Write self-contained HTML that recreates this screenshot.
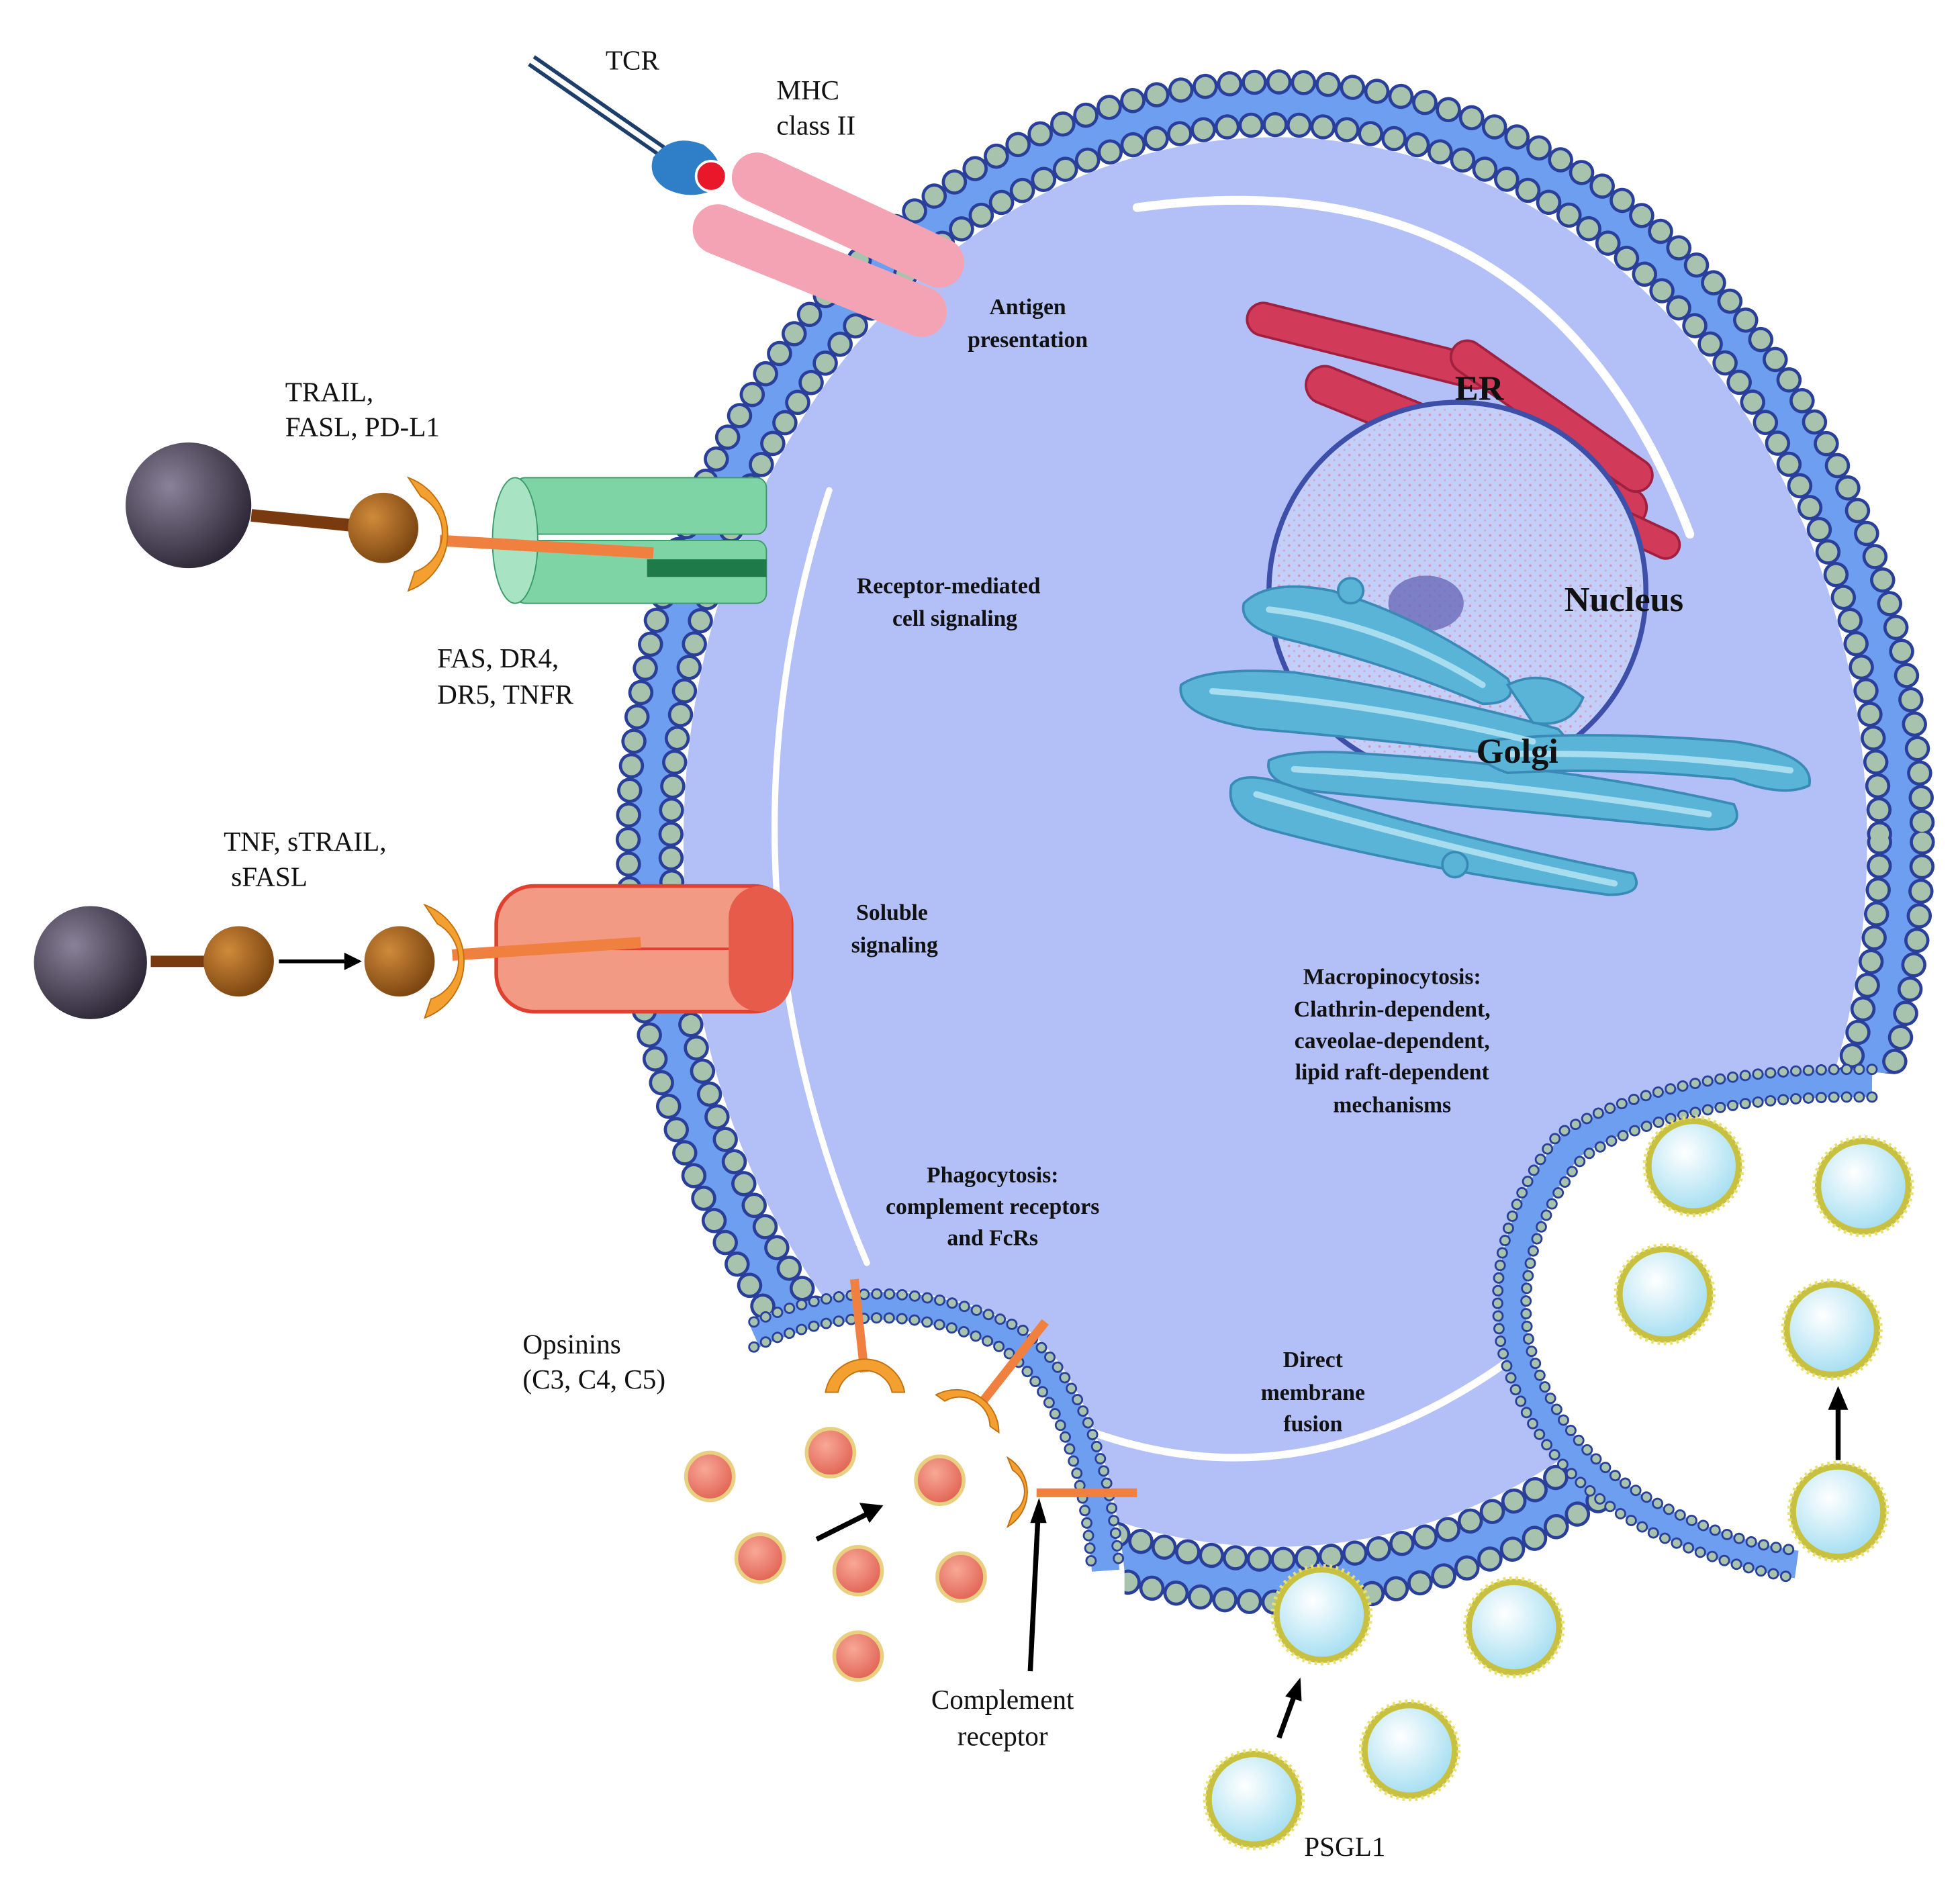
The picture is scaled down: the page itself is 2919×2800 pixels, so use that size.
<!DOCTYPE html>
<html><head><meta charset="utf-8"><style>
html,body{margin:0;padding:0;background:#fff}
svg{display:block}
text{font-family:"Liberation Serif",serif;fill:#111}
.b{font-weight:bold;font-size:18px;text-anchor:middle}
.n{font-size:22px}
.L{font-weight:bold;font-size:28px}
</style></head><body>
<svg width="2919" height="2800" viewBox="0 0 1560 1496" xmlns="http://www.w3.org/2000/svg">
<defs>
<radialGradient id="sph" cx="0.35" cy="0.35" r="0.7"><stop offset="0" stop-color="#8a8298"/><stop offset="1" stop-color="#2c2636"/></radialGradient>
<radialGradient id="brn" cx="0.35" cy="0.35" r="0.7"><stop offset="0" stop-color="#d08a3a"/><stop offset="1" stop-color="#7a4410"/></radialGradient>
<radialGradient id="ves" cx="0.4" cy="0.35" r="0.7"><stop offset="0" stop-color="#ffffff"/><stop offset="1" stop-color="#9fdcf0"/></radialGradient>
<radialGradient id="ops" cx="0.4" cy="0.35" r="0.7"><stop offset="0" stop-color="#f8a898"/><stop offset="1" stop-color="#e06050"/></radialGradient>
<pattern id="dots" width="8" height="8" patternUnits="userSpaceOnUse"><circle cx="2" cy="2" r="1" fill="#e07090"/><circle cx="6" cy="6" r="0.8" fill="#d090b0"/></pattern>
</defs>

<!-- cell body -->
<ellipse cx="1015" cy="670" rx="498" ry="588" fill="none" stroke="#6d9ef0" stroke-width="40"/>
<ellipse cx="1015" cy="670" rx="515" ry="605" fill="none" stroke="#2a3f9a" stroke-width="20" stroke-dasharray="0.1 19.5" stroke-linecap="round"/>
<ellipse cx="1015" cy="670" rx="515" ry="605" fill="none" stroke="#a7c2ad" stroke-width="15" stroke-dasharray="0.1 19.5" stroke-linecap="round"/>
<ellipse cx="1015" cy="670" rx="481" ry="571" fill="none" stroke="#2a3f9a" stroke-width="20" stroke-dasharray="0.1 19" stroke-linecap="round"/>
<ellipse cx="1015" cy="670" rx="481" ry="571" fill="none" stroke="#a7c2ad" stroke-width="15" stroke-dasharray="0.1 19" stroke-linecap="round"/>
<ellipse cx="1015" cy="670" rx="471" ry="561" fill="#b3c0f8"/>

<!-- highlights -->
<path d="M905,165 Q1230,120 1345,425" fill="none" stroke="#fff" stroke-width="7" stroke-linecap="round"/>
<path d="M660,390 Q560,700 690,1005" fill="none" stroke="#fff" stroke-width="5" stroke-linecap="round"/>
<path d="M870,1140 Q1040,1200 1205,1080" fill="none" stroke="#fff" stroke-width="6" stroke-linecap="round"/>

<!-- phagocytosis cup -->
<path d="M560,1070 Q700,990 820,1060 Q880,1110 895,1250 L895,1496 L300,1496 L300,1100 Z" fill="#fff"/>
<path d="M600,1062 Q705,1015 805,1065 Q870,1115 880,1250" fill="none" stroke="#6d9ef0" stroke-width="22"/>
<path d="M600,1052 Q705,1005 812,1057 Q880,1110 891,1250" fill="none" stroke="#2a3f9a" stroke-width="9" stroke-dasharray="0.1 10" stroke-linecap="round"/>
<path d="M600,1052 Q705,1005 812,1057 Q880,1110 891,1250" fill="none" stroke="#a7c2ad" stroke-width="6" stroke-dasharray="0.1 10" stroke-linecap="round"/>
<path d="M600,1072 Q705,1025 798,1073 Q860,1120 869,1250" fill="none" stroke="#2a3f9a" stroke-width="9" stroke-dasharray="0.1 10" stroke-linecap="round"/>
<path d="M600,1072 Q705,1025 798,1073 Q860,1120 869,1250" fill="none" stroke="#a7c2ad" stroke-width="6" stroke-dasharray="0.1 10" stroke-linecap="round"/>

<!-- pinocytosis cavity -->
<path d="M1560,860 L1480,852 Q1330,850 1240,905 Q1180,980 1195,1070 Q1220,1170 1320,1220 Q1380,1245 1430,1250 L1560,1250 Z" fill="#fff"/>
<path d="M1490,862 Q1330,860 1250,912 Q1192,985 1206,1070 Q1230,1165 1325,1212 Q1380,1238 1430,1245" fill="none" stroke="#6d9ef0" stroke-width="22"/>
<path d="M1490,851 Q1325,849 1240,903 Q1180,980 1195,1072 Q1220,1172 1320,1222 Q1380,1248 1430,1256" fill="none" stroke="#2a3f9a" stroke-width="9" stroke-dasharray="0.1 10" stroke-linecap="round"/>
<path d="M1490,851 Q1325,849 1240,903 Q1180,980 1195,1072 Q1220,1172 1320,1222 Q1380,1248 1430,1256" fill="none" stroke="#a7c2ad" stroke-width="6" stroke-dasharray="0.1 10" stroke-linecap="round"/>
<path d="M1490,873 Q1335,871 1260,921 Q1204,990 1217,1068 Q1240,1158 1330,1202 Q1380,1228 1430,1234" fill="none" stroke="#2a3f9a" stroke-width="9" stroke-dasharray="0.1 10" stroke-linecap="round"/>
<path d="M1490,873 Q1335,871 1260,921 Q1204,990 1217,1068 Q1240,1158 1330,1202 Q1380,1228 1430,1234" fill="none" stroke="#a7c2ad" stroke-width="6" stroke-dasharray="0.1 10" stroke-linecap="round"/>

<!-- ER -->
<g fill="#d23a5a" stroke="#a02040" stroke-width="2">
<rect x="990" y="262" width="200" height="26" rx="13" transform="rotate(14 1090 275)"/>
<rect x="1030" y="340" width="290" height="30" rx="15" transform="rotate(22 1175 355)"/>
<rect x="1140" y="318" width="190" height="26" rx="13" transform="rotate(35 1235 331)"/>
<rect x="1250" y="408" width="90" height="22" rx="11" transform="rotate(25 1295 419)"/>
</g>

<!-- nucleus -->
<circle cx="1160" cy="470" r="150" fill="#c3cff8" stroke="#3d4fa8" stroke-width="4"/>
<circle cx="1160" cy="470" r="146" fill="url(#dots)" opacity="0.6"/>
<ellipse cx="1135" cy="480" rx="30" ry="22" fill="#6a6ab8" opacity="0.8"/>

<!-- Golgi -->
<g fill="#5ab4d8" stroke="#3a8ab8" stroke-width="2">
<path d="M990,480 Q1010,460 1060,470 Q1130,490 1200,540 Q1210,560 1180,560 Q1110,530 1030,510 Q985,500 990,480Z"/>
<path d="M940,545 Q960,530 1030,535 Q1130,550 1240,580 Q1260,600 1230,605 Q1120,590 1000,580 Q935,570 940,545Z"/>
<path d="M1010,605 Q1030,595 1090,600 Q1250,610 1380,640 Q1390,660 1360,660 Q1200,645 1050,630 Q1005,625 1010,605Z"/>
<path d="M980,625 Q990,610 1040,630 Q1150,665 1300,695 Q1310,712 1280,712 Q1120,690 1010,660 Q975,650 980,625Z"/>
<path d="M1180,590 Q1250,580 1380,590 Q1445,600 1440,625 Q1420,635 1380,620 Q1280,610 1200,615 Q1170,605 1180,590Z"/>
<path d="M1200,545 Q1230,530 1260,555 Q1250,580 1220,575Z"/>
<circle cx="1158" cy="688" r="10"/>
<circle cx="1075" cy="470" r="10"/>
</g>
<g fill="none" stroke="#a8dcef" stroke-width="5" stroke-linecap="round">
<path d="M1010,485 Q1100,495 1180,545"/>
<path d="M965,550 Q1100,560 1220,590"/>
<path d="M1030,612 Q1200,622 1360,648"/>
<path d="M1000,632 Q1150,675 1285,703"/>
<path d="M1200,600 Q1320,598 1425,613"/>
</g>

<!-- MHC / TCR -->
<line x1="425" y1="45" x2="540" y2="125" stroke="#1d3e6a" stroke-width="3"/>
<line x1="421" y1="51" x2="536" y2="131" stroke="#1d3e6a" stroke-width="3"/>
<path d="M520,125 Q535,105 560,115 Q580,130 570,150 Q550,160 530,150 Q515,140 520,125Z" fill="#2e7ec8"/>
<rect x="575" y="155" width="200" height="40" rx="20" fill="#f4a3b4" transform="rotate(25 675 175)"/>
<rect x="545" y="195" width="215" height="40" rx="20" fill="#f4a3b4" transform="rotate(22 652 215)"/>
<circle cx="566" cy="140" r="12" fill="#e8182a" stroke="#fff" stroke-width="2"/>

<!-- TRAIL receptor -->
<g>
<rect x="410" y="380" width="200" height="45" rx="8" fill="#7fd4a5" stroke="#3a9a6a"/>
<rect x="410" y="430" width="200" height="50" rx="8" fill="#7fd4a5" stroke="#3a9a6a"/>
<ellipse cx="410" cy="430" rx="18" ry="50" fill="#a8e4c4" stroke="#3a9a6a"/>
<rect x="515" y="445" width="95" height="14" fill="#1f7a4a"/>
<line x1="200" y1="410" x2="300" y2="420" stroke="#7a3a10" stroke-width="10"/>
<circle cx="150" cy="402" r="50" fill="url(#sph)"/>
<circle cx="305" cy="420" r="28" fill="url(#brn)"/>
<line x1="350" y1="430" x2="520" y2="440" stroke="#f08040" stroke-width="9"/>
<path d="M325,380 A48,48 0 0 1 325,470 L330,455 A33,33 0 0 0 335,395Z" fill="#f4a030" stroke="#c07010"/>
</g>

<!-- TNF receptor -->
<g>
<rect x="395" y="705" width="235" height="100" rx="30" fill="#f39a85" stroke="#e04030" stroke-width="3"/>
<rect x="580" y="705" width="50" height="100" rx="25" fill="#e65b4a"/>
<line x1="395" y1="755" x2="580" y2="755" stroke="#e04030" stroke-width="2"/>
<line x1="120" y1="765" x2="170" y2="765" stroke="#7a3a10" stroke-width="9"/>
<circle cx="72" cy="766" r="45" fill="url(#sph)"/>
<circle cx="190" cy="765" r="28" fill="url(#brn)"/>
<line x1="222" y1="765" x2="278" y2="765" stroke="#000" stroke-width="3"/>
<path d="M288,765 L274,758 L274,772Z" fill="#000"/>
<circle cx="318" cy="765" r="28" fill="url(#brn)"/>
<line x1="360" y1="760" x2="510" y2="750" stroke="#f08040" stroke-width="9"/>
<path d="M338,720 A48,48 0 0 1 338,810 L343,795 A33,33 0 0 0 348,735Z" fill="#f4a030" stroke="#c07010"/>
</g>

<!-- complement receptors -->
<g stroke="#f08040" stroke-width="7">
<line x1="680" y1="1018" x2="688" y2="1092"/>
<line x1="832" y1="1052" x2="780" y2="1118"/>
<line x1="905" y1="1188" x2="825" y2="1188"/>
</g>
<g fill="#f4a030" stroke="#c07010">
<path d="M657,1108 A32,32 0 0 1 720,1108 L710,1108 A22,22 0 0 0 667,1108Z"/>
<path d="M745,1110 A34,34 0 0 1 795,1140 L788,1135 A24,24 0 0 0 752,1115Z"/>
<path d="M802,1160 A32,32 0 0 1 802,1215 L806,1204 A20,20 0 0 0 806,1170Z"/>
</g>

<!-- opsonin particles -->
<g fill="url(#ops)" stroke="#e8d080" stroke-width="3">
<circle cx="565" cy="1175" r="19"/><circle cx="661" cy="1156" r="19"/><circle cx="748" cy="1178" r="19"/>
<circle cx="605" cy="1240" r="19"/><circle cx="683" cy="1250" r="19"/><circle cx="765" cy="1255" r="19"/>
<circle cx="683" cy="1318" r="19"/>
</g>

<!-- vesicles -->
<g fill="url(#ves)" stroke="#c8c040" stroke-width="5" >
<circle cx="1348" cy="928" r="36"/><circle cx="1483" cy="944" r="36"/><circle cx="1325" cy="1030" r="36"/>
<circle cx="1458" cy="1058" r="36"/><circle cx="1463" cy="1203" r="36"/><circle cx="1052" cy="1285" r="36"/>
<circle cx="1205" cy="1295" r="36"/><circle cx="1122" cy="1393" r="36"/><circle cx="998" cy="1432" r="36"/>
</g>
<g fill="none" stroke="#e8e070" stroke-width="3" stroke-dasharray="2 3">
<circle cx="1348" cy="928" r="39"/><circle cx="1483" cy="944" r="39"/><circle cx="1325" cy="1030" r="39"/>
<circle cx="1458" cy="1058" r="39"/><circle cx="1463" cy="1203" r="39"/><circle cx="1052" cy="1285" r="39"/>
<circle cx="1205" cy="1295" r="39"/><circle cx="1122" cy="1393" r="39"/><circle cx="998" cy="1432" r="39"/>
</g>

<!-- arrows -->
<g stroke="#000" stroke-width="4">
<line x1="650" y1="1225" x2="690" y2="1205"/>
<line x1="820" y1="1330" x2="826" y2="1210"/>
<line x1="1018" y1="1383" x2="1030" y2="1350"/>
<line x1="1463" y1="1162" x2="1463" y2="1120"/>
</g>
<g fill="#000">
<path d="M703,1198 L684,1196 L692,1212Z"/>
<path d="M827,1192 L820,1212 L833,1212Z"/>
<path d="M1035,1335 L1023,1350 L1036,1354Z"/>
<path d="M1463,1103 L1455,1122 L1471,1122Z"/>
</g>

<!-- labels -->
<text class="n" x="482" y="55">TCR</text>
<text class="n" x="618" y="79">MHC</text>
<text class="n" x="618" y="107">class II</text>
<text class="b" x="818" y="250">Antigen</text>
<text class="b" x="818" y="276">presentation</text>
<text class="n" x="227" y="319">TRAIL,</text>
<text class="n" x="227" y="347">FASL, PD-L1</text>
<text class="b" x="755" y="472">Receptor-mediated</text>
<text class="b" x="760" y="498">cell signaling</text>
<text class="n" x="348" y="531">FAS, DR4,</text>
<text class="n" x="348" y="560">DR5, TNFR</text>
<text class="n" x="178" y="677">TNF, sTRAIL,</text>
<text class="n" x="184" y="705">sFASL</text>
<text class="b" x="710" y="732">Soluble</text>
<text class="b" x="712" y="758">signaling</text>
<text class="L" x="1158" y="318">ER</text>
<text class="L" x="1245" y="486">Nucleus</text>
<text class="L" x="1175" y="607">Golgi</text>
<text class="b" x="1108" y="783">Macropinocytosis:</text>
<text class="b" x="1108" y="809">Clathrin-dependent,</text>
<text class="b" x="1108" y="834">caveolae-dependent,</text>
<text class="b" x="1108" y="859">lipid raft-dependent</text>
<text class="b" x="1108" y="885">mechanisms</text>
<text class="b" x="790" y="941">Phagocytosis:</text>
<text class="b" x="790" y="966">complement receptors</text>
<text class="b" x="790" y="991">and FcRs</text>
<text class="n" x="416" y="1077">Opsinins</text>
<text class="n" x="416" y="1105">(C3, C4, C5)</text>
<text class="b" x="1045" y="1088">Direct</text>
<text class="b" x="1045" y="1114">membrane</text>
<text class="b" x="1045" y="1139">fusion</text>
<text class="n" x="798" y="1360" text-anchor="middle">Complement</text>
<text class="n" x="798" y="1389" text-anchor="middle">receptor</text>
<text class="n" x="1038" y="1477">PSGL1</text>
</svg>
</body></html>
